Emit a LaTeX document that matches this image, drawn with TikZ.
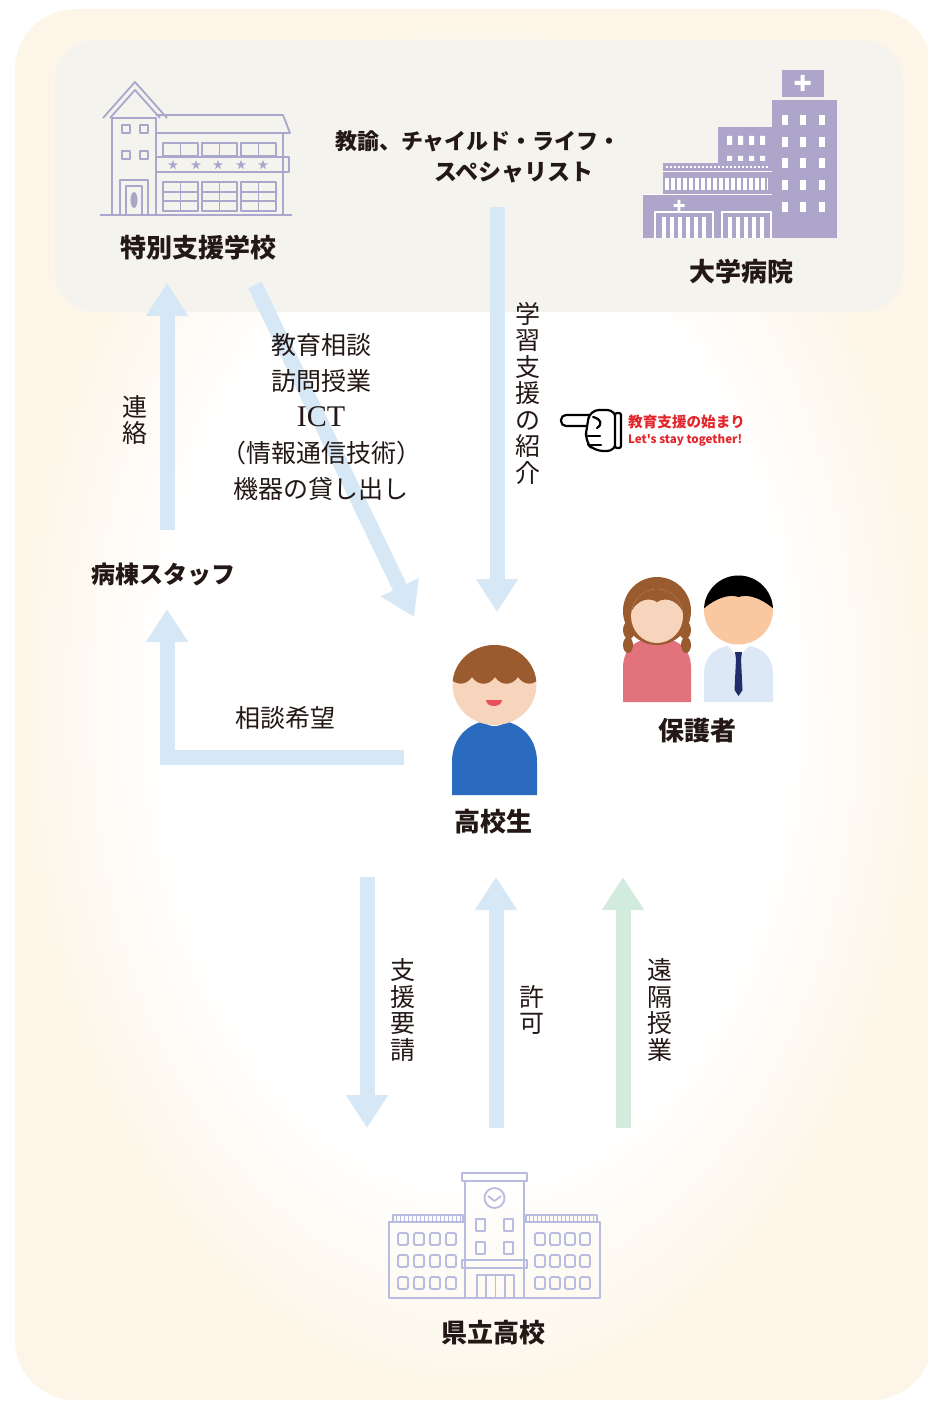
\documentclass[tikz,border=0pt]{standalone}
\usepackage{fontspec}
\newfontfamily\jp{Noto Sans CJK JP}
\newfontfamily\ictfont{Liberation Serif}
\usetikzlibrary{arrows.meta}

\definecolor{cream}{HTML}{FDF6E8}
\definecolor{panel}{HTML}{F4F3EE}
\definecolor{ink}{HTML}{231815}
\definecolor{arrowblue}{HTML}{D6E8F6}
\definecolor{arrowgreen}{HTML}{D3EBDF}
\definecolor{bldgline}{HTML}{A9A8CC}
\definecolor{schoolline}{HTML}{B7BCE0}
\definecolor{hosp}{HTML}{AEA6CA}
\definecolor{signred}{HTML}{E3262B}
\definecolor{skin}{HTML}{F7D5BC}
\definecolor{skinm}{HTML}{F9C8A0}
\definecolor{hairbrown}{HTML}{9A5B2E}
\definecolor{shirtblue}{HTML}{2A6BBF}
\definecolor{pink}{HTML}{E2737D}
\definecolor{shirtlight}{HTML}{DCE8F6}
\definecolor{navy}{HTML}{1F2D6B}
\definecolor{mouth}{HTML}{E8505B}

\pgfdeclareradialshading{glow}{\pgfpoint{0bp}{0bp}}{%
  color(0bp)=(white); color(17bp)=(white); color(25bp)=(cream); color(50bp)=(cream)}

\tikzset{
  head/.style={font=\jp\bfseries\fontsize{26}{30}\selectfont, text=ink, inner sep=0pt},
  body/.style={font=\jp\fontsize{25}{36}\selectfont, text=ink, inner sep=0pt, align=center},
  vtext/.style={font=\jp\fontsize{25}{26.5}\selectfont, text=ink, inner sep=0pt, align=center},
  fat/.style={draw=arrowblue, line width=15pt, line join=miter,
              -{Triangle[length=33pt,width=40pt]}},
  fatgreen/.style={fat, draw=arrowgreen},
  outline/.style={draw=bldgline, line width=1.8pt, line join=round},
  schooloutline/.style={draw=schoolline, line width=1.8pt, line join=round},
}

\begin{document}
\begin{tikzpicture}[x=1pt,y=-1pt]
\useasboundingbox (0,0) rectangle (928,1404);

% background card and header panel
\begin{scope}
  \clip (0,0) rectangle (928,1404);
  \shade[shading=glow, rounded corners=60] (15,9) rectangle (932,1400);
\end{scope}
\fill[panel, rounded corners=40] (55,40) rectangle (903,312);

% ---------- arrow end points ----------
\coordinate (renraku-s) at (167,530);
\coordinate (renraku-e) at (167,283);
\coordinate (kyoiku-s) at (255,285);
\coordinate (kyoiku-e) at (414,617);
\coordinate (gakushu-s) at (497,207);
\coordinate (gakushu-e) at (497,612);
\coordinate (sodan-s) at (404,757);
\coordinate (sodan-c) at (167,757);
\coordinate (sodan-e) at (167,609);
\coordinate (yosei-s) at (367,877);
\coordinate (yosei-e) at (367,1128);
\coordinate (kyoka-s) at (496,1128);
\coordinate (kyoka-e) at (496,877);
\coordinate (enkaku-s) at (623,1128);
\coordinate (enkaku-e) at (623,877);

% ---------- arrows ----------
\draw[fat] (renraku-s) -- (renraku-e);
\draw[fat] (kyoiku-s) -- (kyoiku-e);
\draw[fat] (gakushu-s) -- (gakushu-e);
\draw[fat] (sodan-s) -- (sodan-c) -- (sodan-e);
\draw[fat] (yosei-s) -- (yosei-e);
\draw[fat] (kyoka-s) -- (kyoka-e);
\draw[fatgreen] (enkaku-s) -- (enkaku-e);

% ---------- special support school ----------
\begin{scope}[outline]
  \draw (103,118) -- (135,82) -- (167,118);
  \draw (110,118) -- (135,90) -- (160,118);
  \draw (112,118) rectangle (156,215);
  \draw (122,125) rectangle (130,133) (140,125) rectangle (148,133)
        (122,151) rectangle (130,159) (140,151) rectangle (148,159);
  \draw (120,180) rectangle (148,215) (126,186) rectangle (142,215);
  \fill[bldgline] (134,200) ellipse (3.5 and 8);
  \draw (156,115) -- (283,115) -- (290,133) -- (156,133);
  \draw (156,133) rectangle (283,215);
  \foreach \x in {163,202,241} {
    \draw (\x,143) rectangle ++(35,13);
    \draw (\x+17.5,143) -- ++(0,13);
    \draw (\x,182) rectangle ++(35,29);
    \draw (\x+17.5,182) -- ++(0,29);
    \draw (\x,192) -- ++(35,0) (\x,201) -- ++(35,0);
  }
  \draw (156,157) rectangle (289,172);
  % five-pointed stars on the balcony band
  \foreach \x in {173,196,218,241,263}
    \fill[bldgline] (\x,165) +(-90:5) -- +(-54:2) -- +(-18:5) -- +(18:2) -- +(54:5)
       -- +(90:2) -- +(126:5) -- +(162:2) -- +(198:5) -- +(234:2) -- cycle;
  \draw (100,215) -- (292,215);
\end{scope}

% ---------- university hospital ----------
\begin{scope}
  \fill[hosp] (782,70) rectangle (824,97);
  \fill[white] (800.5,75) rectangle (804.5,91) (794.5,81) rectangle (810.5,85);
  \fill[hosp] (772,100) rectangle (837,238);
  \foreach \x in {782,800,819}
    \foreach \y in {115,137,158,180,202}
      \fill[white] (\x,\y) rectangle ++(5.5,10);
  \fill[hosp] (718,127) rectangle (772,238);
  \foreach \x in {727,738,749,760}
    \fill[white] (\x,136) rectangle ++(5,9) (\x,156) rectangle ++(5,5);
  \fill[hosp] (663,163) rectangle (772,238);
  \foreach \x in {666,670,...,768}
    \fill[white] (\x,166) rectangle ++(1.8,2.5);
  \draw[white, line width=0.8pt] (663,171) -- (772,171);
  \fill[white] (665,178) rectangle (768,190);
  \foreach \x in {669,675,...,765}
    \fill[hosp] (\x,178) rectangle ++(2,12);
  \fill[hosp] (643,195) rectangle (772,238);
  \draw[white, line width=1pt] (643,195) -- (772,195);
  \fill[white] (677.6,200) rectangle (680.4,211) (673.5,204.2) rectangle (684.5,206.8);
  \draw[white, line width=1.5pt] (655,238) -- (655,212) -- (713,212) -- (713,238)
                                 (722,238) -- (722,212) -- (771,212) -- (771,238);
  \foreach \x in {662,670,...,702}
    \fill[white] (\x,217) rectangle ++(4,21);
  \foreach \x in {728,736,...,766}
    \fill[white] (\x,217) rectangle ++(4,21);
\end{scope}

% ---------- header labels ----------
\node[head] (special) at (198,248) {特別支援学校};
\node[head] (hospital) at (741,272) {大学病院};
\node[head, font=\jp\bfseries\fontsize{22}{26}\selectfont] (staff1) at (478,141) {教諭、チャイルド・ライフ・};
\node[head, font=\jp\bfseries\fontsize{23}{26}\selectfont] (staff2) at (514,173) {スペシャリスト};

% ---------- arrow labels ----------
\node[vtext] (renraku) at (135,420) {連\\絡};
\node[body] (services) at (321,417) {教育相談\\訪問授業\\{\ictfont\fontsize{30}{36}\selectfont ICT}\\（情報通信技術）\\機器の貸し出し};
\node[vtext] (gakushu) at (528,393) {学\\習\\支\\援\\の\\紹\\介};
\node[head, font=\jp\bfseries\fontsize{24}{28}\selectfont] (ward) at (163,574) {病棟スタッフ};
\node[body] (sodan) at (285,718) {相談希望};
\node[vtext] (yosei) at (403,1010) {支\\援\\要\\請};
\node[vtext] (kyoka) at (532,1010) {許\\可};
\node[vtext] (enkaku) at (660,1010) {遠\\隔\\授\\業};

% ---------- pointing hand with slogan ----------
\begin{scope}[draw=black, line width=2.2pt, line join=round, line cap=round]
  \filldraw[fill=white, rounded corners=5] (596,415) -- (561,415) -- (561,426) -- (596,426);
  \filldraw[fill=white, rounded corners=9] (590,410) -- (616,410) -- (616,451)
        -- (594,451) -- (585,441) -- (587,426) -- cycle;
  \draw (588,436) -- (600,436) (591,445) -- (601,445);
  \draw (593,417) .. controls (601,419) and (603,424) .. (597,428);
  \filldraw[fill=white, rounded corners=2] (615,413) rectangle (621,448);
\end{scope}
\node[anchor=west, inner sep=0pt, text=signred, font=\jp\bfseries\fontsize{14.6}{16}\selectfont] (slogan1) at (628,422) {教育支援の始まり};
\node[anchor=west, inner sep=0pt, text=signred, font=\jp\bfseries\fontsize{11.6}{14}\selectfont] (slogan2) at (628,440) {Let's stay together!};

% ---------- high-school student ----------
\fill[shirtblue] (452,795) -- (452,762) .. controls (452,735) and (472,720) .. (494.5,720)
      .. controls (517,720) and (537,735) .. (537,762) -- (537,795) -- cycle;
\fill[white] (494.5,722) ellipse (9 and 4);
\fill[skin] (494.5,685) ellipse (42 and 40);
\begin{scope}
  \clip (494.5,685) ellipse (42 and 40);
  \fill[hairbrown] (448,640) -- (541,640) -- (541,676)
     .. controls (535,686) and (524,686) .. (518,677)
     .. controls (512,686) and (501,686) .. (495,677)
     .. controls (489,686) and (478,686) .. (472,677)
     .. controls (466,686) and (455,686) .. (448,676) -- cycle;
\end{scope}
\fill[mouth] (486,700) -- (502,700) .. controls (502,708) and (486,708) .. cycle;
\node[head] (student) at (493,822) {高校生};

% ---------- guardians ----------
% mother
\fill[pink] (623,702) -- (623,668) .. controls (623,645) and (640,638) .. (657,638)
      .. controls (674,638) and (691,645) .. (691,668) -- (691,702) -- cycle;
\fill[hairbrown] (657,611) circle (34);
\fill[hairbrown] (629,630) ellipse (6 and 9) (628,645) ellipse (5 and 8)
                 (685,630) ellipse (6 and 9) (686,645) ellipse (5 and 8);
\fill[skin] (651,628) rectangle (663,642);
\fill[skin] (657,616) ellipse (26 and 27);
\begin{scope}
  \clip (657,616) ellipse (26 and 27);
  \fill[hairbrown] (628,622) .. controls (632,600) and (648,596) .. (657,602)
     .. controls (666,596) and (682,600) .. (686,622) -- (690,580) -- (624,580) -- cycle;
\end{scope}
% father
\fill[shirtlight] (704,702) -- (704,675) .. controls (704,652) and (720,645) .. (738.5,645)
      .. controls (757,645) and (773,652) .. (773,675) -- (773,702) -- cycle;
\fill[white] (727,645) -- (738.5,657) -- (750,645) -- cycle;
\fill[navy] (735,652) -- (742,652) -- (741,659) -- (736,659) -- cycle;
\fill[navy] (736,659) -- (741,659) -- (742.5,690) -- (738.5,696) -- (734.5,690) -- cycle;
\fill[skinm] (738.5,610) circle (34.5);
\begin{scope}
  \clip (738.5,610) circle (34.5);
  \fill[black] (700,612) .. controls (712,600) and (728,593) .. (738.5,597)
     .. controls (749,593) and (765,600) .. (777,612) -- (777,570) -- (700,570) -- cycle;
\end{scope}
\node[head] (guardians) at (697,731) {保護者};

% ---------- prefectural high school ----------
\begin{scope}[schooloutline]
  \draw (462,1173) rectangle (527,1181);
  \draw (465,1181) rectangle (524,1298);
  \draw (494.5,1198) circle (10);
  \draw (488,1196) -- (494.5,1201) -- (501,1196);
  \foreach \x in {476,504}
    \foreach \y in {1219,1242}
      \draw (\x,\y) rectangle ++(9,12);
  \draw (462,1260) rectangle (527,1268);
  \draw (477,1298) -- (477,1275) -- (514,1275) -- (514,1298);
  \draw (486,1275) -- (486,1298) (495.5,1275) -- (495.5,1298) (505,1275) -- (505,1298);
  \draw (465,1222) -- (389,1222) -- (389,1298) -- (600,1298) -- (600,1222) -- (524,1222);
  \draw (393,1215) rectangle (463,1222) (526,1215) rectangle (597,1222);
  \foreach \x in {396,400,...,460} \draw[line width=0.8pt] (\x,1215) -- (\x,1222);
  \foreach \x in {529,533,...,595} \draw[line width=0.8pt] (\x,1215) -- (\x,1222);
  \foreach \x in {398,414,430,446,535,550,565,580}
    \foreach \y in {1233,1255,1277}
      \draw[rounded corners=1.5] (\x,\y) rectangle ++(10,12);
\end{scope}
\node[head] (prefschool) at (493,1333) {県立高校};

\end{tikzpicture}
\end{document}
